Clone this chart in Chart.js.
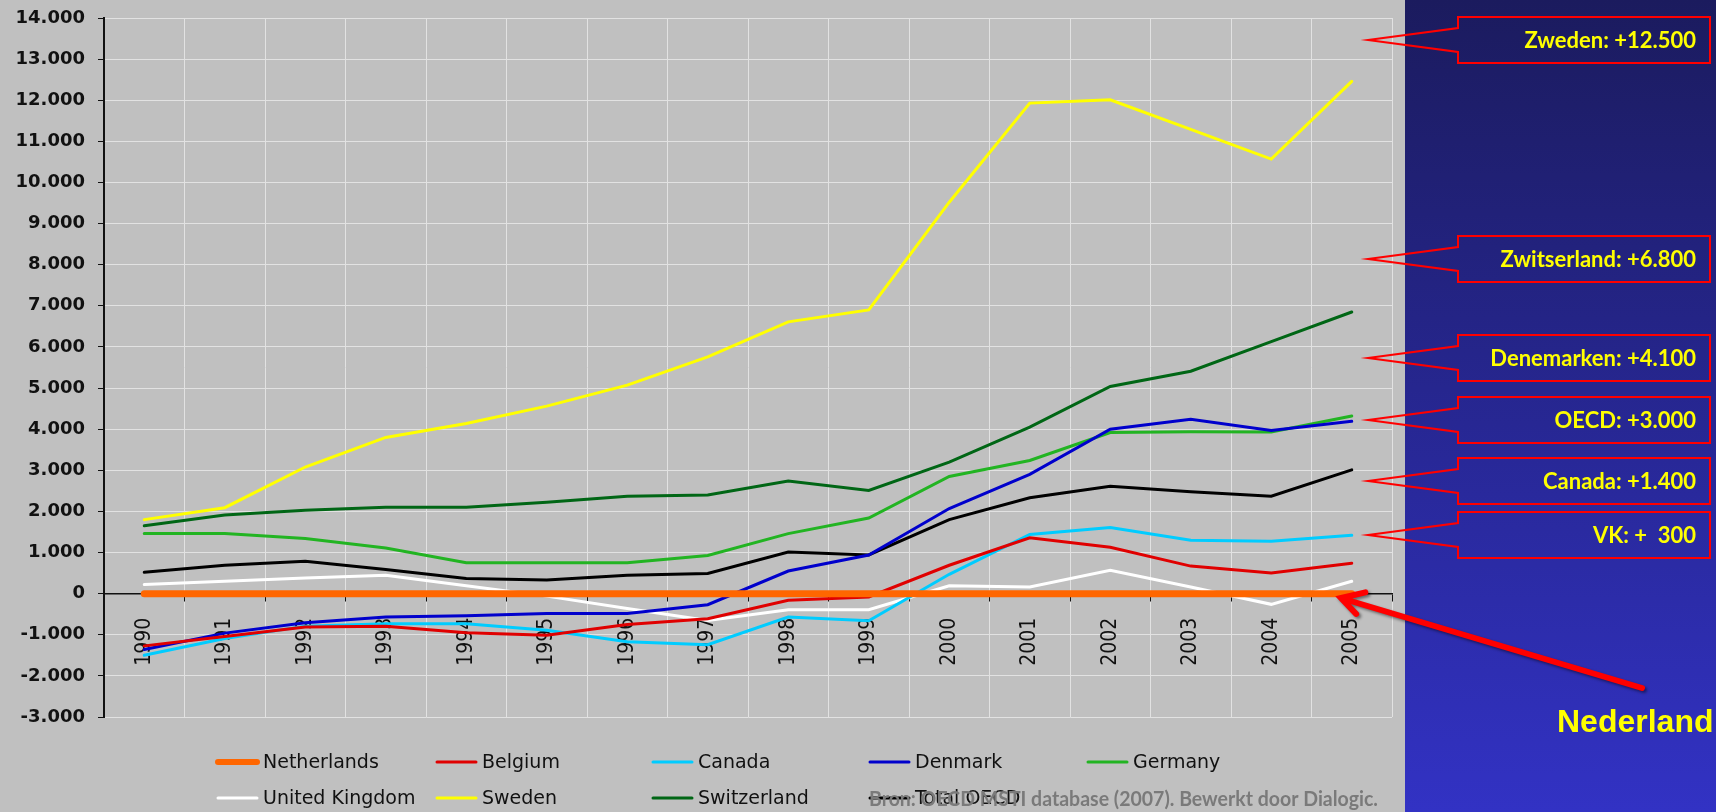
<!DOCTYPE html>
<html lang="nl">
<head>
<meta charset="UTF-8">
<title>R&amp;D uitgaven per land</title>
<script src="https://cdn.jsdelivr.net/npm/chart.js"></script>
<style>
  html, body { margin: 0; padding: 0; background: #c0c0c0; }
  #wrap { position: relative; width: 1716px; height: 812px; }
</style>
</head>
<body>
<div id="wrap"><canvas id="grafiek"></canvas></div>
<script>
// jaren op de x-as
const jaren = ['1990', '1991', '1992', '1993', '1994', '1995', '1996', '1997',
               '1998', '1999', '2000', '2001', '2002', '2003', '2004', '2005'];

// waarden (verschil t.o.v. Nederland)
const netherlands = [0, 0, 0, 0, 0, 0, 0, 0, 0, 0, 0, 0, 0, 0, 0, 0];
const belgium     = [-1270, -1040, -810, -790, -950, -1010, -750, -610, -160, -80, 690, 1360, 1130, 670, 500, 740];
const canada      = [-1500, -1090, -790, -730, -730, -890, -1170, -1240, -570, -660, 470, 1440, 1610, 1300, 1275, 1420];
const denmark     = [-1360, -960, -710, -570, -540, -480, -480, -270, 550, 940, 2070, 2900, 4000, 4240, 3970, 4190];
const germany     = [1460, 1460, 1340, 1110, 750, 750, 750, 930, 1460, 1840, 2850, 3240, 3920, 3940, 3930, 4320];
const unitedKingdom = [220, 300, 380, 450, 190, -60, -360, -650, -390, -390, 190, 160, 570, 160, -260, 300];
const sweden      = [1800, 2090, 3080, 3800, 4140, 4560, 5070, 5760, 6610, 6900, 9520, 11930, 12010, 11290, 10570, 12460];
const switzerland = [1650, 1910, 2030, 2100, 2100, 2220, 2370, 2400, 2740, 2510, 3200, 4050, 5040, 5410, 6130, 6850];
const totalOecd   = [520, 690, 790, 590, 370, 330, 450, 490, 1010, 940, 1800, 2330, 2610, 2480, 2370, 3010];

// teksten in de kaders rechts
const calloutTeksten = ['Zweden: +12.500', 'Zwitserland: +6.800', 'Denemarken: +4.100',
                        'OECD: +3.000', 'Canada: +1.400', 'VK: +  300'];
const pijlTekst = 'Nederland';
const bronTekst = 'Bron: OECD MSTI database (2007). Bewerkt door Dialogic.';

// getal met punt als duizendtal-scheiding
function nlGetal(v) {
  const s = String(Math.abs(v)).replace(/\B(?=(\d{3})+(?!\d))/g, '.');
  return (v < 0 ? '-' : '') + s;
}

// achtergrond: grijs vlak + blauw paneel rechts
const achtergrond = {
  id: 'achtergrond',
  beforeDraw(chart) {
    const ctx = chart.ctx;
    ctx.save();
    ctx.fillStyle = '#c0c0c0';
    ctx.fillRect(0, 0, 1405, chart.height);
    const g = ctx.createLinearGradient(0, 0, 0, chart.height);
    g.addColorStop(0, '#1b1b5e');
    g.addColorStop(1, '#3232c4');
    ctx.fillStyle = g;
    ctx.fillRect(1405, 0, chart.width - 1405, chart.height);
    ctx.restore();
  }
};

// eigen legenda onderaan, in kolommen zoals het origineel
const legenda = {
  id: 'legenda',
  afterDraw(chart, args, opts) {
    const ctx = chart.ctx;
    ctx.save();
    ctx.font = '19px "DejaVu Sans"';
    ctx.textBaseline = 'middle';
    ctx.fillStyle = '#111';
    chart.data.datasets.forEach((ds, i) => {
      const [x, y] = opts.plekken[i];
      ctx.beginPath();
      ctx.strokeStyle = ds.borderColor;
      ctx.lineWidth = ds.borderWidth > 4 ? 6 : 3;
      ctx.lineCap = 'round';
      ctx.moveTo(x + 2, y);
      ctx.lineTo(x + 41, y);
      ctx.stroke();
      ctx.fillText(ds.label, x + 47, y + 1);
    });

    // bronvermelding (ligt over de legenda heen)
    ctx.font = 'bold 21px Lato';
    const w = ctx.measureText(bronTekst).width;
    ctx.fillStyle = '#7a7a7a';
    ctx.textBaseline = 'alphabetic';
    ctx.translate(869, 806);
    ctx.scale(509 / w, 1);
    ctx.fillText(bronTekst, 0, 0);
    ctx.restore();
  }
};

// kaders met uitroep-punt en de pijl naar Nederland
const kaders = {
  id: 'kaders',
  afterDraw(chart, args, opts) {
    const ctx = chart.ctx;
    ctx.save();
    opts.boven.forEach((top, i) => {
      const l = 1458, r = 1710, b = top + 46, my = top + 23, tipX = 1368;
      ctx.beginPath();
      ctx.moveTo(tipX, my);
      ctx.lineTo(l, my - 12);
      ctx.lineTo(l, top);
      ctx.lineTo(r, top);
      ctx.lineTo(r, b);
      ctx.lineTo(l, b);
      ctx.lineTo(l, my + 12);
      ctx.closePath();
      ctx.strokeStyle = '#ff0000';
      ctx.lineWidth = 2;
      ctx.stroke();
      ctx.font = 'bold 22px Lato';
      ctx.fillStyle = '#ffff00';
      ctx.textAlign = 'right';
      ctx.textBaseline = 'middle';
      ctx.fillText(calloutTeksten[i], 1696, my + 1);
    });

    // pijl
    const [x0, y0, x1, y1] = opts.pijl;
    const hoek = Math.atan2(y0 - y1, x0 - x1);
    ctx.shadowColor = 'rgba(0,0,0,0.45)';
    ctx.shadowBlur = 3;
    ctx.shadowOffsetX = 2;
    ctx.shadowOffsetY = 2;
    ctx.strokeStyle = '#ff0000';
    ctx.lineWidth = 6;
    ctx.lineCap = 'round';
    ctx.beginPath();
    ctx.moveTo(x0, y0);
    ctx.lineTo(x1 + 3, y1 + 1);
    ctx.moveTo(x1 + 25 * Math.cos(hoek - 0.52), y1 + 25 * Math.sin(hoek - 0.52));
    ctx.lineTo(x1, y1);
    ctx.lineTo(x1 + 22 * Math.cos(hoek + 0.52), y1 + 22 * Math.sin(hoek + 0.52));
    ctx.stroke();
    ctx.shadowColor = 'transparent';

    ctx.font = 'bold 32px "Liberation Sans"';
    ctx.fillStyle = '#ffff00';
    ctx.textAlign = 'left';
    ctx.textBaseline = 'alphabetic';
    ctx.fillText(pijlTekst, 1557, 732);
    ctx.restore();
  }
};

function lijn(label, data, kleur, dikte) {
  return {
    label: label,
    data: data,
    borderColor: kleur,
    backgroundColor: kleur,
    borderWidth: dikte || 3,
    pointRadius: 0,
    fill: false,
    tension: 0,
    borderCapStyle: 'round'
  };
}

const grafiek = new Chart(document.getElementById('grafiek'), {
  type: 'line',
  data: {
    labels: jaren,
    datasets: [
      lijn('Netherlands', netherlands, '#ff6600', 7),
      lijn('Belgium', belgium, '#e00000'),
      lijn('Canada', canada, '#00ccff'),
      lijn('Denmark', denmark, '#0000cc'),
      lijn('Germany', germany, '#22b422'),
      lijn('United Kingdom', unitedKingdom, '#ffffff'),
      lijn('Sweden', sweden, '#ffff00'),
      lijn('Switzerland', switzerland, '#006615'),
      lijn('Total OECD', totalOecd, '#000000')
    ]
  },
  options: {
    responsive: true,
    maintainAspectRatio: false,
    animation: false,
    layout: { padding: { left: 0, top: 18, right: 324, bottom: 95 } },
    scales: {
      x: {
        position: { y: 0 },
        offset: true,
        grid: { offset: true, color: '#e2e2e2', lineWidth: 1, tickColor: '#111', tickLength: 7 },
        border: { color: '#111', width: 1.5 },
        ticks: {
          autoSkip: false, minRotation: 90, maxRotation: 90, padding: 17,
          color: '#111', font: { family: '"DejaVu Sans Condensed", "DejaVu Sans"', size: 21 }
        }
      },
      y: {
        min: -3000,
        max: 14000,
        afterFit(scale) {
          scale.width = 104;
          // labelruimte boven/onder niet meetellen, alleen layout.padding
          scale.paddingTop = 0;
          scale.paddingBottom = 0;
        },
        grid: { color: '#e2e2e2', lineWidth: 1, tickColor: '#111', tickLength: 6 },
        border: { color: '#111', width: 2 },
        ticks: {
          stepSize: 1000, padding: 13, color: '#111',
          font: { family: '"DejaVu Sans"', size: 18, weight: 'bold' },
          callback: v => nlGetal(v)
        }
      }
    },
    plugins: {
      legend: { display: false },
      tooltip: { enabled: false },
      legenda: {
        plekken: [[216, 762], [435, 762], [651, 762], [868, 762], [1086, 762],
                  [216, 798], [435, 798], [651, 798], [868, 798]]
      },
      kaders: {
        boven: [17, 236, 335, 397, 458, 512],
        pijl: [1642, 688, 1341, 598]
      }
    }
  },
  plugins: [achtergrond, legenda, kaders]
});
</script>
</body>
</html>
